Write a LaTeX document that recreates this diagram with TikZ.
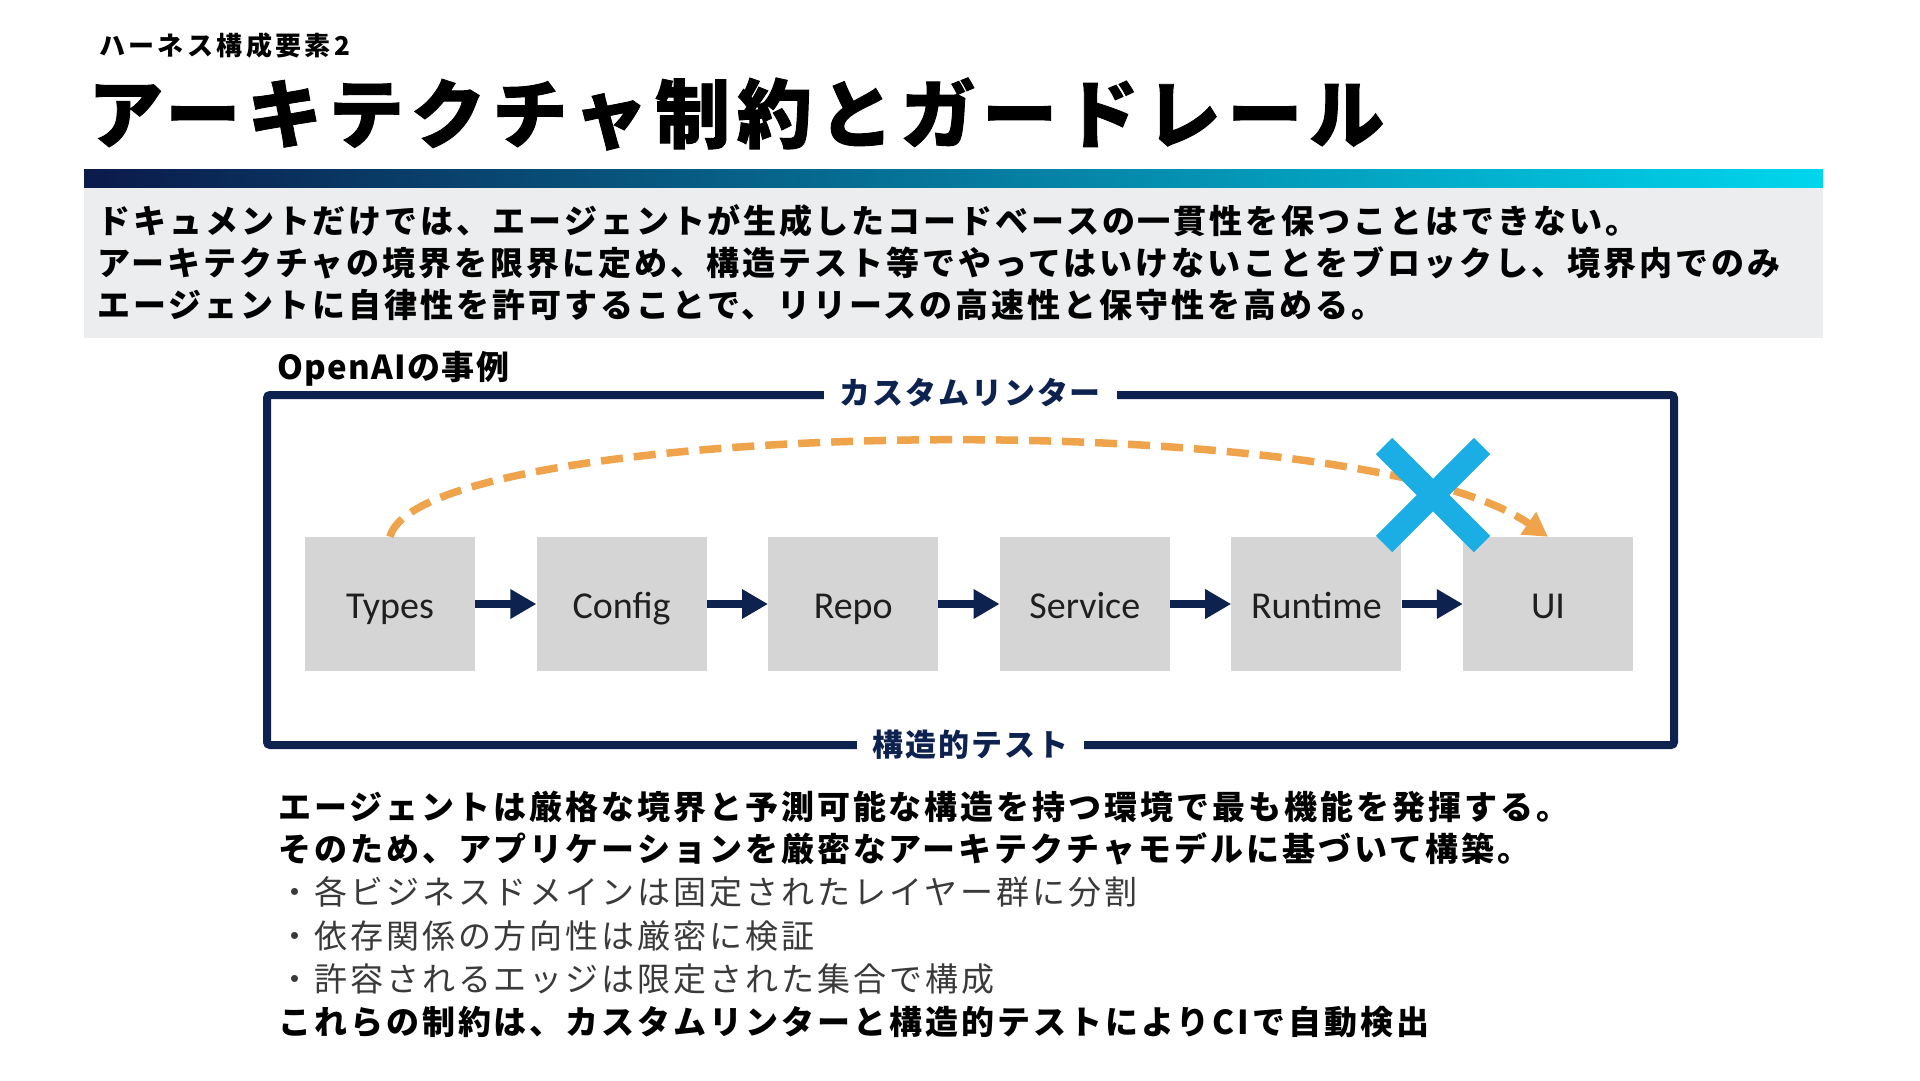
\documentclass[tikz,border=0pt]{standalone}
\usepackage{fontspec}
\setmainfont{Noto Sans CJK JP}
\newfontfamily\latinfont{Carlito}
\usetikzlibrary{arrows.meta}
\definecolor{navy}{HTML}{0E2250}
\definecolor{barL}{HTML}{0B1A4A}
\definecolor{barM}{HTML}{0B6688}
\definecolor{barR}{HTML}{00D6EE}
\definecolor{panel}{HTML}{EBEDEF}
\definecolor{layerbg}{HTML}{D5D5D5}
\definecolor{lintorange}{HTML}{EFA44C}
\definecolor{crossblue}{HTML}{1BAEE4}
\definecolor{bullet}{HTML}{3A3A3A}
\tikzset{
  txt/.style={anchor=west, inner sep=0pt},
  sub/.style={txt, font={\fontsize{26}{30}\selectfont\bfseries\addfontfeature{LetterSpace=13}}},
  ttl/.style={txt, font={\fontsize{75}{84}\selectfont\bfseries\addfontfeature{LetterSpace=9,FakeBold=1.2}}},
  body/.style={txt, font={\fontsize{33}{40}\selectfont\bfseries\addfontfeature{LetterSpace=9}}},
  plain/.style={txt, text=bullet, font={\fontsize{33}{40}\selectfont\addfontfeature{LetterSpace=9}}},
  case/.style={txt, font={\fontsize{33}{40}\selectfont\bfseries\addfontfeature{LetterSpace=4}}},
  frame/.style={draw=navy, line width=8pt, rounded corners=3pt, minimum width=1407pt, minimum height=350pt, inner sep=0pt},
  lbl/.style={fill=white, text=navy, inner xsep=16pt, inner ysep=2pt, font={\fontsize{31}{36}\selectfont\bfseries\addfontfeature{LetterSpace=6}}},
  layer/.style={fill=layerbg, minimum width=170pt, minimum height=134pt, inner sep=0pt, text height=34pt, text depth=6pt, text=black!88, font={\latinfont\fontsize{38}{44}\selectfont}},
  flow/.style={draw=navy, line width=8pt, -{Triangle[length=26pt,width=28pt]}},
  lint/.style={draw=lintorange, line width=7.5pt, dash pattern=on 22pt off 11pt, -{Triangle[length=24pt,width=26pt]}},
  cross/.style={draw=crossblue, line width=23pt, line cap=butt}
}
\begin{document}
\begin{tikzpicture}[x=1pt,y=-1pt]
\useasboundingbox (0,0) rectangle (1920,1080);
\fill[white] (0,0) rectangle (1920,1080);
% header
\node[sub] (sub) at (99,46) {ハーネス構成要素2};
\node[ttl] (ttl) at (88,114) {アーキテクチャ制約とガードレール};
\shade[left color=barL, middle color=barM, right color=barR] (84,169) rectangle (1823,188);
\fill[panel] (84,188) rectangle (1823,338);
\node[body] (p1) at (97,221) {ドキュメントだけでは、エージェントが生成したコードベースの一貫性を保つことはできない。};
\node[body] (p2) at (97,263) {アーキテクチャの境界を限界に定め、構造テスト等でやってはいけないことをブロックし、境界内でのみ};
\node[body] (p3) at (97,305) {エージェントに自律性を許可することで、リリースの高速性と保守性を高める。};
% diagram
\node[case] (case) at (277,369) {OpenAIの事例};
\node[frame] (frame) at (970.5,570) {};
\node[lbl, yshift=-2pt] (linter) at (frame.north) {カスタムリンター};
\node[lbl, yshift=4pt] (stest) at (frame.south) {構造的テスト};
\foreach \n/\t [count=\i from 0] in {types/Types,config/Config,repo/Repo,service/Service,runtime/Runtime,ui/UI}
  \node[layer] (\n) at ({390+231.6*\i},604) {\t};
\draw[flow] (types) -- (config);
\draw[flow] (config) -- (repo);
\draw[flow] (repo) -- (service);
\draw[flow] (service) -- (runtime);
\draw[flow] (runtime) -- (ui);
\draw[lint] (types.north) .. controls (420,420) and (1350,400) .. (ui.north);
\coordinate (xc) at (1433,495);
\draw[cross] ([shift={(-49,-49)}]xc) -- ([shift={(49,49)}]xc);
\draw[cross] ([shift={(49,-49)}]xc) -- ([shift={(-49,49)}]xc);
% bottom text
\node[body] (b1) at (278,807) {エージェントは厳格な境界と予測可能な構造を持つ環境で最も機能を発揮する。};
\node[body] (b2) at (278,849) {そのため、アプリケーションを厳密なアーキテクチャモデルに基づいて構築。};
\node[plain] (b3) at (278,892) {・各ビジネスドメインは固定されたレイヤー群に分割};
\node[plain] (b4) at (278,936) {・依存関係の方向性は厳密に検証};
\node[plain] (b5) at (278,979) {・許容されるエッジは限定された集合で構成};
\node[body] (b6) at (278,1022) {これらの制約は、カスタムリンターと構造的テストによりCIで自動検出};
\end{tikzpicture}
\end{document}
